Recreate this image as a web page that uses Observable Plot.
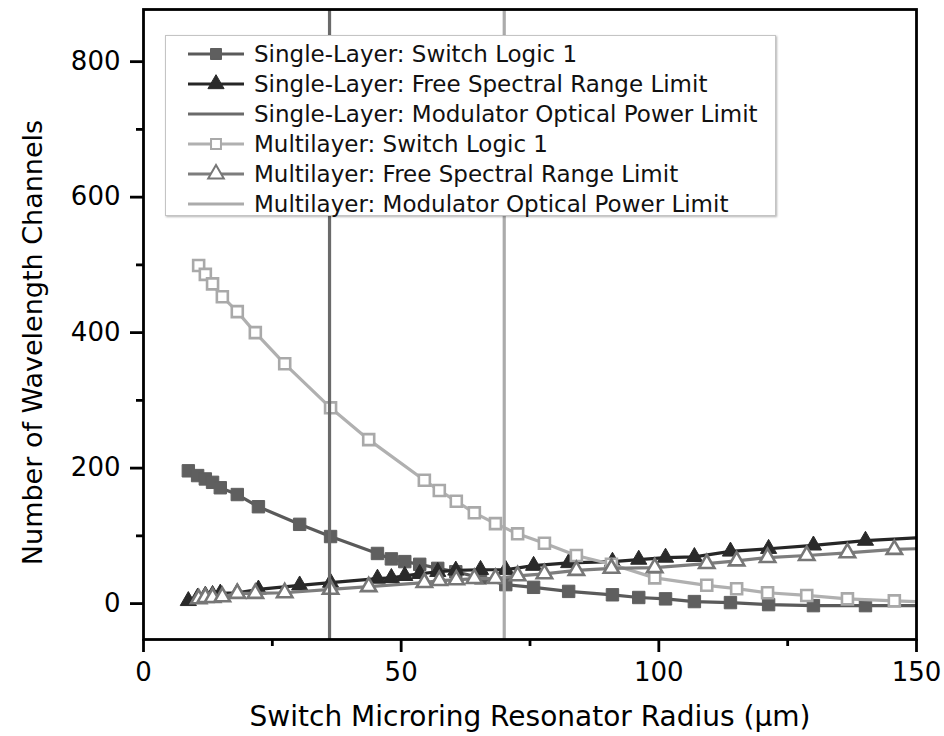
<!DOCTYPE html>
<html><head><meta charset="utf-8">
<script src="https://cdn.jsdelivr.net/npm/d3@7"></script>
<script src="https://cdn.jsdelivr.net/npm/@observablehq/plot@0.6"></script>
<style>
body{margin:0;background:#fff;}
#fig{position:relative;width:944px;height:736px;font-family:"DejaVu Sans",Verdana,sans-serif;}
#legend{position:absolute;left:165px;top:35px;width:611px;height:181px;border:1px solid #c4c4c4;background:#fff;box-shadow:1px 1px 2px rgba(0,0,0,0.3);box-sizing:border-box;}
.row{position:absolute;left:0;height:30px;width:100%;}
.row svg{position:absolute;left:22px;top:0;}
.row span{position:absolute;left:88px;top:0;line-height:30px;font-size:23px;color:#111;white-space:nowrap;}
</style></head>
<body><div id="fig"></div>
<script>
// Single-layer series (last x = 150 is where the line meets the frame)
const singleX      = [8.7, 10.5, 12.0, 13.4, 14.9, 18.2, 22.3, 30.3, 36.3, 45.4, 48.1, 50.7, 53.6, 57.1, 60.6, 65.4, 70.3, 75.7, 82.5, 91.0, 96.1, 101.3, 106.9, 113.9, 121.3, 130.0, 140.1, 150];
const singleSwitch = [196, 189, 184, 179, 171, 161, 143, 117, 99, 74, 66, 62, 58, 52, 47, 38, 28, 24, 18, 13, 9, 7, 3, 1.5, -1.5, -3, -3, -3];
const singleFSR    = [4, 9, 12, 13, 15, 16, 21, 27, 31, 37, 38, 41, 44, 47, 49, 50, 50, 56, 60, 62, 65, 68, 69, 77, 81, 86, 93, 97];
// Multilayer series
const multiX       = [10.7, 12.0, 13.4, 15.3, 18.2, 21.7, 27.4, 36.3, 43.7, 54.5, 57.4, 60.7, 64.2, 68.3, 72.6, 77.8, 84.0, 90.8, 99.2, 109.3, 115.1, 121.1, 128.7, 136.6, 145.7, 150];
const multiSwitch  = [499, 486, 472, 453, 431, 400, 354, 289, 242, 182, 167, 151, 134, 118, 103, 89, 71, 58, 38, 27, 22, 16, 12, 7, 4, 3];
const multiFSR     = [7, 9, 9, 10, 15, 15, 16, 21, 25, 31, 34, 35, 37, 37, 41, 44, 49, 52, 53, 59, 63, 68, 71, 75, 80, 81];
// Modulator optical power limits (radius, µm): single-layer, multilayer
const modulatorLimitX = [36.1, 70.0];
// Axes
const xTicks = [0, 50, 100, 150];
const xMinorTicks = [25, 75, 125];
const yTicks = [0, 200, 400, 600, 800];
const yMinorTicks = [100, 300, 500, 700];
const xTitle = "Switch Microring Resonator Radius (µm)";
const yTitle = "Number of Wavelength Channels";
const legendLabels = [
  "Single-Layer: Switch Logic 1",
  "Single-Layer: Free Spectral Range Limit",
  "Single-Layer: Modulator Optical Power Limit",
  "Multilayer: Switch Logic 1",
  "Multilayer: Free Spectral Range Limit",
  "Multilayer: Modulator Optical Power Limit"
];

const C = {
  sSq: "#5f5f5f", sSqLine: "#5a5a5a",
  sTri: "#2a2a2a", sTriLine: "#262626",
  sMod: "#6a6a6a",
  mSq: "#a9a9a9", mSqLine: "#b0b0b0",
  mTri: "#777777", mTriLine: "#7d7d7d",
  mMod: "#ababab"
};

const singleRows = singleX.map((x, i) => ({x, sw: singleSwitch[i], fsr: singleFSR[i], end: i === singleX.length - 1}));
const multiRows = multiX.map((x, i) => ({x, sw: multiSwitch[i], fsr: multiFSR[i], end: i === multiX.length - 1}));
const singlePts = singleRows.filter(d => !d.end);
const multiPts = multiRows.filter(d => !d.end);

const chart = Plot.plot({
  width: 944, height: 736,
  marginLeft: 143, marginRight: 28, marginTop: 9, marginBottom: 97,
  x: {domain: [0, 150]},
  y: {domain: [-53, 877]},
  style: {fontFamily: '"DejaVu Sans", Verdana, sans-serif', background: "white", color: "black"},
  marks: [
    Plot.line(singleRows, {x: "x", y: "sw", stroke: C.sSqLine, strokeWidth: 3.2, clip: true}),
    Plot.dot(singlePts, {x: "x", y: "sw", symbol: "square", r: 7.0, fill: C.sSq, stroke: C.sSq, strokeWidth: 1}),
    Plot.line(singleRows, {x: "x", y: "fsr", stroke: C.sTriLine, strokeWidth: 3.2, clip: true}),
    Plot.dot(singlePts, {x: "x", y: "fsr", symbol: "triangle", r: 6.0, fill: C.sTri, stroke: C.sTri, strokeWidth: 1}),
    Plot.line(multiRows, {x: "x", y: "sw", stroke: C.mSqLine, strokeWidth: 3.2, clip: true}),
    Plot.dot(multiPts, {x: "x", y: "sw", symbol: "square", r: 6.2, fill: "white", stroke: C.mSq, strokeWidth: 2.6}),
    Plot.line(multiRows, {x: "x", y: "fsr", stroke: C.mTriLine, strokeWidth: 3.2, clip: true}),
    Plot.dot(multiPts, {x: "x", y: "fsr", symbol: "triangle", r: 5.7, fill: "white", stroke: C.mTri, strokeWidth: 2.6}),
    Plot.ruleX([modulatorLimitX[0]], {stroke: C.sMod, strokeWidth: 3.2}),
    Plot.ruleX([modulatorLimitX[1]], {stroke: C.mMod, strokeWidth: 3.2}),
    Plot.frame({stroke: "black", strokeWidth: 2.8}),
    Plot.axisX({ticks: xTicks, tickSize: 13, tickPadding: 10, fontSize: 26, strokeWidth: 2.8, label: null, tickFormat: d => String(d)}),
    Plot.axisX({ticks: xMinorTicks, tickSize: 7, strokeWidth: 2.8, label: null, tickFormat: () => ""}),
    Plot.axisY({ticks: yTicks, tickSize: 13, tickPadding: 10, fontSize: 26, strokeWidth: 2.8, label: null, tickFormat: d => String(d)}),
    Plot.axisY({ticks: yMinorTicks, tickSize: 7, strokeWidth: 2.8, label: null, tickFormat: () => ""}),
    Plot.text([xTitle], {frameAnchor: "bottom", textAnchor: "middle", dy: 78, fontSize: 28, lineAnchor: "middle", fill: "black"}),
    Plot.text([yTitle], {frameAnchor: "left", textAnchor: "middle", dx: -110, dy: 18, rotate: -90, fontSize: 27, lineAnchor: "middle", fill: "black"})
  ]
});

const fig = document.getElementById("fig");
fig.appendChild(chart);

// Legend (inside the plot area, upper left)
const legend = document.createElement("div");
legend.id = "legend";
const legendSymbols = [
  {line: C.sSqLine, sym: "square", fill: C.sSq, stroke: C.sSq, sw: 1, r: 6.2},
  {line: C.sTriLine, sym: "triangle", fill: C.sTri, stroke: C.sTri, sw: 1, r: 6.0},
  {line: C.sMod, sym: null},
  {line: C.mSqLine, sym: "square", fill: "white", stroke: C.mSq, sw: 2, r: 5.6},
  {line: C.mTriLine, sym: "triangle", fill: "white", stroke: C.mTri, sw: 2, r: 5.8},
  {line: C.mMod, sym: null}
];
legendLabels.forEach((label, i) => {
  const row = document.createElement("div");
  row.className = "row";
  row.style.top = (3 + i * 30) + "px";
  const s = legendSymbols[i];
  const svg = d3.create("svg").attr("width", 56).attr("height", 30);
  svg.append("line").attr("x1", 0).attr("x2", 56).attr("y1", 15).attr("y2", 15)
    .attr("stroke", s.line).attr("stroke-width", 3.2);
  if (s.sym) {
    const type = s.sym === "square" ? d3.symbolSquare : d3.symbolTriangle;
    svg.append("path").attr("d", d3.symbol(type, Math.PI * s.r * s.r)())
      .attr("transform", "translate(28,15)")
      .attr("fill", s.fill).attr("stroke", s.stroke).attr("stroke-width", s.sw);
  }
  row.appendChild(svg.node());
  const span = document.createElement("span");
  span.textContent = label;
  row.appendChild(span);
  legend.appendChild(row);
});
fig.appendChild(legend);
</script>
</body></html>
